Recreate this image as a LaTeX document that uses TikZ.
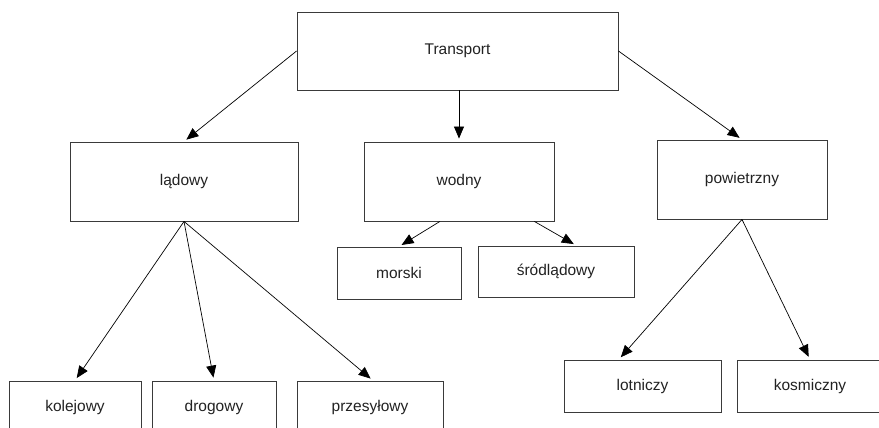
\documentclass[tikz,border=0pt]{standalone}
\usepackage{fontspec}
\setmainfont{Liberation Sans}
\usetikzlibrary{arrows.meta,calc}
\definecolor{boxline}{HTML}{3A3A3A}
\definecolor{txt}{HTML}{222222}
\begin{document}
\begin{tikzpicture}[x=1pt,y=-1pt,
  box/.style={draw=boxline,line width=0.9pt,fill=white,inner sep=0pt,font=\fontsize{15.5}{18}\selectfont,text=txt},
  conn/.style={draw=black,line width=0.7pt,-{Triangle[length=12pt,width=10pt]},shorten >=3pt}]
\useasboundingbox (0,0) rectangle (879,428);
\clip (0,0) rectangle (879,428);
\fill[white] (0,0) rectangle (879,428);
\node[box,minimum width=321pt,minimum height=78pt] (T) at (457.5,51) {Transport};
\node[box,minimum width=228pt,minimum height=79pt] (lad) at (184,181.5) {lądowy};
\node[box,minimum width=190pt,minimum height=79pt] (wod) at (459,181.5) {wodny};
\node[box,minimum width=170pt,minimum height=79pt] (pow) at (742,179.5) {powietrzny};
\node[box,minimum width=124pt,minimum height=52pt] (mor) at (399,273) {morski};
\node[box,minimum width=156pt,minimum height=51pt] (sro) at (556,271.5) {śródlądowy};
\node[box,minimum width=157pt,minimum height=52pt] (lot) at (642.5,386) {lotniczy};
\node[box,minimum width=146pt,minimum height=52pt] (kos) at (810,386) {kosmiczny};
\node[box,minimum width=132pt,minimum height=52pt] (kol) at (75,407) {kolejowy};
\node[box,minimum width=124pt,minimum height=52pt] (dro) at (214,407) {drogowy};
\node[box,minimum width=146pt,minimum height=52pt] (prz) at (370,407) {przesyłowy};
\draw[conn] (T.west) -- (lad.north);
\draw[conn] (T.south -| wod.north) -- (wod.north);
\draw[conn] (T.east) -- (pow.north);
\draw[conn] (lad.south) -- (kol.north);
\draw[conn] (lad.south) -- (dro.north);
\draw[conn] (lad.south) -- ($(prz.north west)!0.52!(prz.north east)$);
\draw[conn] ($(wod.south west)!0.4!(wod.south east)$) -- (mor.north);
\draw[conn] ($(wod.south west)!0.895!(wod.south east)$) -- ($(sro.north west)!0.63!(sro.north east)$);
\draw[conn] (pow.south) -- ($(lot.north west)!0.35!(lot.north east)$);
\draw[conn] (pow.south) -- (kos.north);
\end{tikzpicture}
\end{document}
